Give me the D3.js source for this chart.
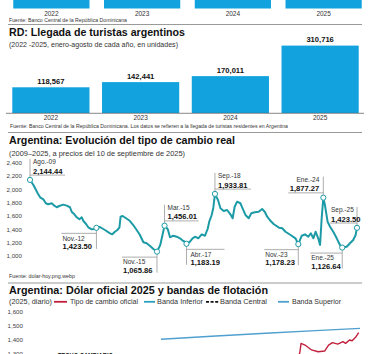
<!DOCTYPE html>
<html lang="es">
<head>
<meta charset="utf-8">
<script src="https://cdn.jsdelivr.net/npm/d3@7"></script>
<style>
  body { margin: 0; background: #fff; }
  svg { display: block; font-family: "Liberation Sans", Arial, sans-serif; }
</style>
</head>
<body>
<div id="grafico"></div>
<script>
const width = 370;
const height = 354;

// Bloque superior (cortado en la imagen, altura de barras no legible)
const aniosSup = ["2022", "2023", "2024", "2025"];
const valoresSup = [100, 100, 100, 100];

// RD: llegada de turistas argentinos, enero-agosto
const anios = ["2022", "2023", "2024", "2025"];
const turistas = [118567, 142441, 170011, 310716];

// Argentina: tipo de cambio real [año decimal, valor]
const tipoCambioReal = [
    [2009.583, 2144.44], [2009.75, 2068], [2009.88, 1993], [2009.96, 1943],
    [2010.08, 1883], [2010.24, 1853], [2010.36, 1793], [2010.48, 1778],
    [2010.65, 1793], [2010.78, 1757], [2010.9, 1733], [2011.02, 1752],
    [2011.22, 1772], [2011.39, 1757], [2011.55, 1733], [2011.63, 1666],
    [2011.75, 1632], [2011.88, 1582], [2012.01, 1552], [2012.13, 1582],
    [2012.21, 1526], [2012.34, 1481], [2012.45, 1432], [2012.62, 1402],
    [2012.78, 1406], [2012.85, 1423.5], [2013.02, 1436], [2013.27, 1391],
    [2013.52, 1341], [2013.63, 1326], [2013.76, 1365], [2013.88, 1391],
    [2013.98, 1426], [2014.04, 1591], [2014.14, 1602], [2014.31, 1567],
    [2014.5, 1526], [2014.66, 1466], [2014.83, 1391], [2014.99, 1316],
    [2015.16, 1206], [2015.32, 1191], [2015.49, 1150], [2015.65, 1105],
    [2015.83, 1065.86], [2015.99, 1165], [2016.1, 1316], [2016.2, 1456.01],
    [2016.36, 1402], [2016.47, 1281], [2016.63, 1305], [2016.8, 1290],
    [2016.96, 1266], [2017.12, 1226], [2017.21, 1215], [2017.28, 1183.19],
    [2017.45, 1215], [2017.58, 1266], [2017.7, 1290], [2017.86, 1266],
    [2018.03, 1326], [2018.19, 1305], [2018.32, 1406], [2018.4, 1516],
    [2018.52, 1617], [2018.6, 1726], [2018.68, 1933.81], [2018.83, 1842],
    [2018.95, 1717], [2019.11, 1677], [2019.28, 1692], [2019.44, 1627],
    [2019.55, 1567], [2019.65, 1741], [2019.77, 1817], [2019.93, 1793],
    [2020.04, 1717], [2020.18, 1617], [2020.34, 1567], [2020.47, 1642],
    [2020.64, 1657], [2020.83, 1666], [2021.0, 1707], [2021.13, 1666],
    [2021.25, 1591], [2021.42, 1526], [2021.58, 1477], [2021.83, 1426],
    [2021.99, 1417], [2022.15, 1365], [2022.4, 1316], [2022.64, 1266],
    [2022.78, 1178.23], [2022.95, 1305], [2023.11, 1326], [2023.27, 1290],
    [2023.4, 1341], [2023.52, 1266], [2023.63, 1365], [2023.76, 1266],
    [2023.85, 1165], [2023.93, 1567], [2024.01, 1877.27], [2024.09, 1767],
    [2024.22, 1516], [2024.34, 1441], [2024.5, 1365], [2024.67, 1266],
    [2024.83, 1165], [2024.94, 1126.64], [2025.16, 1140], [2025.32, 1191],
    [2025.48, 1241], [2025.6, 1316], [2025.667, 1423.5]
];

// puntos destacados
const hitos = [
    { mes: "Ago.-09", t: 2009.583, valor: 2144.44 },
    { mes: "Nov.-12", t: 2012.85, valor: 1423.5 },
    { mes: "Nov.-15", t: 2015.83, valor: 1065.86 },
    { mes: "Mar.-15", t: 2016.2, valor: 1456.01 },
    { mes: "Abr.-17", t: 2017.28, valor: 1183.19 },
    { mes: "Sep.-18", t: 2018.68, valor: 1933.81 },
    { mes: "Nov.-23", t: 2022.78, valor: 1178.23 },
    { mes: "Ene.-24", t: 2024.01, valor: 1877.27 },
    { mes: "Ene.-25", t: 2024.94, valor: 1126.64 },
    { mes: "Sep.-25", t: 2025.667, valor: 1423.5 }
];
const ticksTcr = [1000, 1200, 1400, 1600, 1800, 2000, 2200, 2400];

// Dólar oficial 2025 y bandas
const bandaSuperior = [
    ["2025-04-11", 1405], ["2025-05-23", 1429], ["2025-06-30", 1448],
    ["2025-08-07", 1467], ["2025-09-10", 1483]
];
const tipoOficial = [
    ["2025-07-24", 1271], ["2025-07-26", 1307], ["2025-07-27", 1376],
    ["2025-07-30", 1364], ["2025-08-04", 1329], ["2025-08-09", 1316],
    ["2025-08-14", 1321], ["2025-08-17", 1364], ["2025-08-20", 1381],
    ["2025-08-24", 1371], ["2025-08-28", 1388], ["2025-08-30", 1376],
    ["2025-09-02", 1400], ["2025-09-04", 1395], ["2025-09-07", 1424],
    ["2025-09-09", 1452]
];
const ticksOficial = [1300, 1400, 1500, 1600];
const leyenda = ["Tipo de cambio oficial", "Banda Inferior", "Banda Central", "Banda Superior"];

// colores
const azulBarra = "#12a3de";
const verdeAzul = "#1c9ba6";
const rojo = "#c1203c";
const azulBanda = "#4f9fcf";
const tealBanda = "#2aa2bf";
const gris = "#8a8a8a";

const svg = d3.select("#grafico").append("svg")
    .attr("width", width)
    .attr("height", height);

function texto(x, y, s, o = {}) {
    const t = svg.append("text")
        .attr("x", x)
        .attr("y", y)
        .attr("font-size", o.size || 7)
        .attr("font-weight", o.bold ? 700 : 400)
        .attr("fill", o.color || "#222")
        .attr("text-anchor", o.anchor || "start")
        .text(s);
    if (o.width) t.attr("textLength", o.width).attr("lengthAdjust", "spacingAndGlyphs");
    return t;
}

function divisor(y) {
    svg.append("line")
        .attr("x1", 8).attr("x2", 362)
        .attr("y1", y).attr("y2", y)
        .attr("stroke", "#9a9a9a").attr("stroke-width", 1.2);
}

// ---- bloque superior cortado ----
const xSup = d3.scaleBand().domain(aniosSup).range([6, 369]).paddingInner(0.16).paddingOuter(0.08);
const ySup = d3.scaleLinear().domain([0, 80]).range([8.5, 0]);

svg.append("g").selectAll("rect")
    .data(valoresSup)
    .join("rect")
    .attr("x", (d, i) => xSup(aniosSup[i]))
    .attr("y", (d) => ySup(d))
    .attr("width", xSup.bandwidth())
    .attr("height", (d) => ySup(0) - ySup(d))
    .attr("fill", azulBarra);

aniosSup.forEach((a) => texto(xSup(a) + xSup.bandwidth() / 2, 16.3, a, { size: 6.5, anchor: "middle", color: "#333" }));
texto(9, 22, "Fuente: Banco Central de la República Dominicana", { size: 5.8, width: 118, color: "#333" });
divisor(24.5);

// ---- RD: llegada de turistas ----
texto(9, 36.3, "RD: Llegada de turistas argentinos", { size: 10.5, bold: true, width: 176, color: "#111" });
texto(9, 47, "(2022 -2025, enero-agosto de cada año, en unidades)", { size: 7.6, width: 169, color: "#333" });

const xTur = d3.scaleBand().domain(anios).range([6, 365]).paddingInner(0.14).paddingOuter(0.07);
const yTur = d3.scaleLinear().domain([0, 310716]).range([113, 45.6]);

svg.append("g").selectAll("rect")
    .data(turistas)
    .join("rect")
    .attr("x", (d, i) => xTur(anios[i]))
    .attr("y", (d) => yTur(d))
    .attr("width", xTur.bandwidth())
    .attr("height", (d) => yTur(0) - yTur(d))
    .attr("fill", azulBarra);

turistas.forEach((v, i) => {
    texto(xTur(anios[i]) + xTur.bandwidth() / 2, yTur(v) - 3.2, d3.format(",")(v),
        { size: 7.6, bold: true, anchor: "middle", color: "#111" });
    texto(xTur(anios[i]) + xTur.bandwidth() / 2, 120, anios[i], { size: 6.5, anchor: "middle", color: "#333" });
});
svg.append("line").attr("x1", 6).attr("x2", 364).attr("y1", 113.3).attr("y2", 113.3)
    .attr("stroke", "#555").attr("stroke-width", 0.7);

texto(10, 128, "Fuente: Banco Central de la República Dominicana. Los datos se refieren a la llegada de turistas residentes en Argentina",
    { size: 5.8, width: 278, color: "#333" });
divisor(132.5);

// ---- Argentina: tipo de cambio real ----
texto(9, 143.5, "Argentina: Evolución del tipo de cambio real", { size: 10.5, bold: true, width: 226, color: "#111" });
texto(9, 155.6, "(2009–2025, a precios del 10 de septiembre de 2025)", { size: 7.3, width: 176, color: "#333" });

const xTcr = d3.scaleLinear().domain([2009.583, 2025.667]).range([30, 357]);
const yTcr = d3.scaleLinear().domain([1000, 2400]).range([256, 162.9]);

ticksTcr.forEach((v) => texto(22, yTcr(v) + 2.2, d3.format(",")(v), { size: 6.2, anchor: "end", color: "#444" }));

svg.append("path")
    .datum(tipoCambioReal)
    .attr("fill", "none")
    .attr("stroke", verdeAzul)
    .attr("stroke-width", 2)
    .attr("stroke-linejoin", "round")
    .attr("d", d3.line().x((d) => xTcr(d[0])).y((d) => yTcr(d[1])));

// colocación de las notas: arriba/abajo, extremos de la raya y arranque del texto (relativos al punto)
const notas = {
    "Ago.-09": { arriba: true, raya: [0, 35], tx: 3 },
    "Nov.-12": { arriba: false, raya: [-35, 0], tx: -34 },
    "Nov.-15": { arriba: false, raya: [-35, 0], tx: -34 },
    "Mar.-15": { arriba: true, raya: [0, 34], tx: 3 },
    "Abr.-17": { arriba: false, raya: [0, 38], tx: 4 },
    "Sep.-18": { arriba: true, raya: [0, 36], tx: 3 },
    "Nov.-23": { arriba: false, raya: [-34, 0], tx: -33 },
    "Ene.-24": { arriba: true, raya: [-35, 0], tx: -4, fin: true },
    "Ene.-25": { arriba: false, raya: [-32, 0], tx: -31 },
    "Sep.-25": { arriba: true, raya: [-27, 0], tx: -26 }
};

const gNotas = svg.append("g");
hitos.forEach((h) => {
    const cx = xTcr(h.t);
    const cy = yTcr(h.valor);
    const n = notas[h.mes];
    const ancla = n.fin ? "end" : "start";
    if (n.arriba) {
        gNotas.append("line").attr("x1", cx).attr("x2", cx).attr("y1", cy - 21).attr("y2", cy)
            .attr("stroke", gris).attr("stroke-width", 0.7);
        gNotas.append("line").attr("x1", cx + n.raya[0]).attr("x2", cx + n.raya[1])
            .attr("y1", cy - 4.8).attr("y2", cy - 4.8)
            .attr("stroke", gris).attr("stroke-width", 0.7);
        texto(cx + n.tx, cy - 15.6, h.mes, { size: 6.5, anchor: ancla, color: "#333" });
        texto(cx + n.tx, cy - 6.3, d3.format(",.2f")(h.valor), { size: 7.6, bold: true, anchor: ancla, color: "#111" });
    } else {
        gNotas.append("line").attr("x1", cx).attr("x2", cx).attr("y1", cy).attr("y2", cy + 21)
            .attr("stroke", gris).attr("stroke-width", 0.7);
        gNotas.append("line").attr("x1", cx + n.raya[0]).attr("x2", cx + n.raya[1])
            .attr("y1", cy + 5.5).attr("y2", cy + 5.5)
            .attr("stroke", gris).attr("stroke-width", 0.7);
        texto(cx + n.tx, cy + 12.8, h.mes, { size: 6.5, anchor: ancla, color: "#333" });
        texto(cx + n.tx, cy + 21.3, d3.format(",.2f")(h.valor), { size: 7.6, bold: true, anchor: ancla, color: "#111" });
    }
});

svg.append("g").selectAll("circle")
    .data(hitos)
    .join("circle")
    .attr("cx", (d) => xTcr(d.t))
    .attr("cy", (d) => yTcr(d.valor))
    .attr("r", 2.6)
    .attr("fill", "#fff")
    .attr("stroke", verdeAzul)
    .attr("stroke-width", 1);

texto(9, 278, "Fuente: dolar-hoy.png.webp", { size: 5.6, width: 66, color: "#333" });
divisor(283);

// ---- Argentina: dólar oficial 2025 ----
texto(9, 293.5, "Argentina: Dólar oficial 2025 y bandas de flotación", { size: 10.5, bold: true, width: 259, color: "#111" });
texto(9, 304.2, "(2025, diario)", { size: 7, width: 43, color: "#333" });

const posLeyenda = [
    { sx: 54, sw: 13, tx: 70, tw: 68, color: rojo, dash: null },
    { sx: 144, sw: 11, tx: 157, tw: 46, color: tealBanda, dash: null },
    { sx: 206, sw: 13, tx: 220, tw: 47, color: "#111", dash: "3,1.6" },
    { sx: 278, sw: 11, tx: 292, tw: 49, color: azulBanda, dash: null }
];
leyenda.forEach((l, i) => {
    const p = posLeyenda[i];
    svg.append("line").attr("x1", p.sx).attr("x2", p.sx + p.sw).attr("y1", 301.8).attr("y2", 301.8)
        .attr("stroke", p.color).attr("stroke-width", 1.8)
        .attr("stroke-dasharray", p.dash);
    texto(p.tx, 304.2, l, { size: 7, width: p.tw, color: "#333" });
});

const xOf = d3.scaleTime().domain([new Date(2025, 0, 1), new Date(2025, 8, 10)]).range([30, 360]);
const yOf = d3.scaleLinear().domain([1300, 1600]).range([354, 312]);
const parse = d3.timeParse("%Y-%m-%d");

ticksOficial.forEach((v) => texto(23, yOf(v) + 2.2, d3.format(",")(v), { size: 6.2, anchor: "end", color: "#444" }));

svg.append("path")
    .datum(bandaSuperior)
    .attr("fill", "none")
    .attr("stroke", azulBanda)
    .attr("stroke-width", 1.4)
    .attr("d", d3.line().x((d) => xOf(parse(d[0]))).y((d) => yOf(d[1])));

svg.append("path")
    .datum(tipoOficial)
    .attr("fill", "none")
    .attr("stroke", rojo)
    .attr("stroke-width", 1.4)
    .attr("stroke-linejoin", "round")
    .attr("d", d3.line().x((d) => xOf(parse(d[0]))).y((d) => yOf(d[1])));

texto(58, 357.6, "TECHO CAMBIARIO", { size: 7, bold: true, width: 55, color: "#111" });
</script>
</body>
</html>
